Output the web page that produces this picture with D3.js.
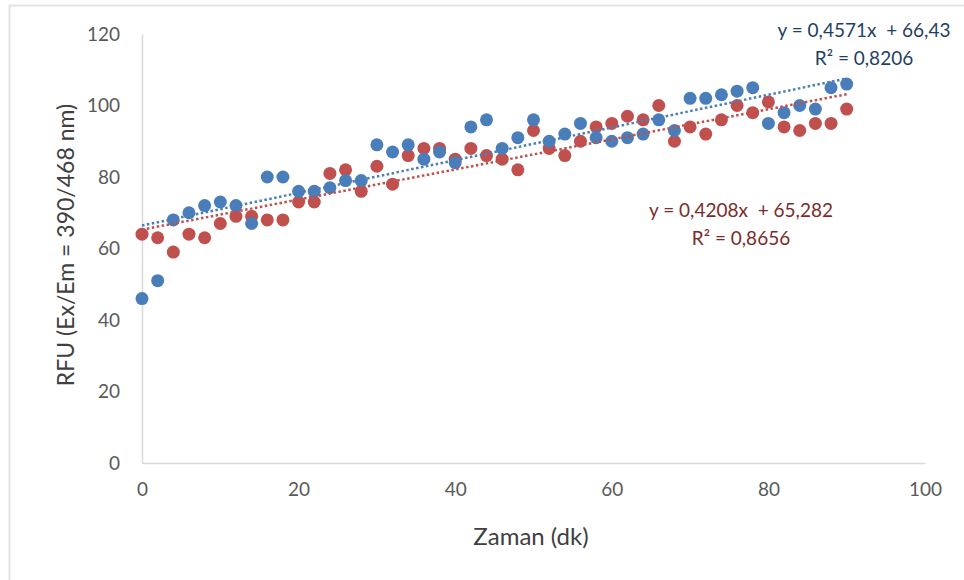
<!DOCTYPE html>
<html>
<head>
<meta charset="utf-8">
<script src="https://cdn.jsdelivr.net/npm/d3@7"></script>
<style>
  body { margin: 0; background: #fff; }
  svg { display: block; }
</style>
</head>
<body>
<div id="chart"></div>
<script>
// time points (dk)
var times = d3.range(0, 91, 2);

// series values
var blueValues = [46, 51, 68, 70, 72, 73, 72, 67, 80, 80,
                  76, 76, 77, 79, 79, 89, 87, 89, 85, 87,
                  84, 94, 96, 88, 91, 96, 90, 92, 95, 91,
                  90, 91, 92, 96, 93, 102, 102, 103, 104, 105,
                  95, 98, 100, 99, 105, 106];
var redValues = [64, 63, 59, 64, 63, 67, 69, 69, 68, 68,
                 73, 73, 81, 82, 76, 83, 78, 86, 88, 88,
                 85, 88, 86, 85, 82, 93, 88, 86, 90, 94,
                 95, 97, 96, 100, 90, 94, 92, 96, 100, 98,
                 101, 94, 93, 95, 95, 99];

// trendline coefficients shown on the chart
var blueTrend = { slope: 0.4571, intercept: 66.43 };
var redTrend = { slope: 0.4208, intercept: 65.282 };

var xTicks = [0, 20, 40, 60, 80, 100];
var yTicks = [0, 20, 40, 60, 80, 100, 120];

var width = 964, height = 580;
var margin = { left: 142, right: 39, top: 34, bottom: 117 };

var svg = d3.select('#chart').append('svg')
    .attr('width', width)
    .attr('height', height);

// outer frame (only top and left edges are visible)
svg.append('line')
    .attr('x1', 9).attr('x2', width).attr('y1', 5.5).attr('y2', 5.5)
    .attr('stroke', '#e3e3e3').attr('stroke-width', 2);
svg.append('line')
    .attr('x1', 9.5).attr('x2', 9.5).attr('y1', 5).attr('y2', height)
    .attr('stroke', '#e3e3e3').attr('stroke-width', 2);

var x = d3.scaleLinear().domain([0, 100])
    .range([margin.left, width - margin.right]);
var y = d3.scaleLinear().domain([0, 120])
    .range([height - margin.bottom, margin.top]);

var font = 'Lato, "Open Sans", sans-serif';

// x axis
var xAxis = svg.append('g')
    .attr('transform', 'translate(0,' + y(0) + ')')
    .call(d3.axisBottom(x).tickValues(xTicks).tickSize(0).tickPadding(20));
xAxis.select('.domain').attr('stroke', '#d9d9d9').attr('stroke-width', 1.5);
xAxis.selectAll('text')
    .attr('fill', '#595959')
    .style('font-family', font)
    .style('font-size', '19px');

// y axis
var yAxis = svg.append('g')
    .attr('transform', 'translate(' + x(0) + ',0)')
    .call(d3.axisLeft(y).tickValues(yTicks).tickSize(0).tickPadding(22));
yAxis.select('.domain').attr('stroke', '#d9d9d9').attr('stroke-width', 1.5);
yAxis.selectAll('text')
    .attr('fill', '#595959')
    .style('font-family', font)
    .style('font-size', '19px');

// axis titles
svg.append('text')
    .attr('x', 531).attr('y', 545)
    .attr('text-anchor', 'middle')
    .attr('fill', '#404040')
    .style('font-family', font)
    .style('font-size', '24px')
    .text('Zaman (dk)');

svg.append('text')
    .attr('transform', 'translate(74,245) rotate(-90)')
    .attr('text-anchor', 'middle')
    .attr('fill', '#404040')
    .style('font-family', font)
    .style('font-size', '23px')
    .text('RFU (Ex/Em = 390/468 nm)');

/**
 * draw one series as filled circles.
 */
function drawSeries(values, color) {

    var pts = times.map(function(t, i) { return { t: t, v: values[i] }; });
    svg.append('g').selectAll('circle')
        .data(pts)
        .enter().append('circle')
        .attr('cx', function(d) { return x(d.t); })
        .attr('cy', function(d) { return y(d.v); })
        .attr('r', 6.5)
        .attr('fill', color);
}

/**
 * dotted linear trendline from 0 to 90 dk.
 */
function drawTrend(trend, color) {

    var ends = [0, 90];
    svg.append('line')
        .attr('x1', x(ends[0]))
        .attr('y1', y(trend.intercept + trend.slope * ends[0]))
        .attr('x2', x(ends[1]))
        .attr('y2', y(trend.intercept + trend.slope * ends[1]))
        .attr('stroke', color)
        .attr('stroke-width', 2.5)
        .attr('stroke-dasharray', '2.5,2.5');
}

drawSeries(redValues, '#c0504d');
drawSeries(blueValues, '#4a7ebb');
drawTrend(redTrend, '#c0504d');
drawTrend(blueTrend, '#4a7ebb');

// trendline labels
function label(lines, cx, cy, color) {
    var t = svg.append('text')
        .attr('text-anchor', 'middle')
        .attr('fill', color)
        .style('font-family', font)
        .style('font-size', '19px');
    lines.forEach(function(s, i) {
        t.append('tspan')
            .attr('x', cx)
            .attr('y', cy + i * 28)
            .attr('xml:space', 'preserve')
            .text(s);
    });
}

label(['y = 0,4571x  + 66,43', 'R\u00b2 = 0,8206'], 864, 37, '#1f3f64');
label(['y = 0,4208x  + 65,282', 'R\u00b2 = 0,8656'], 741, 217, '#7b2c2a');
</script>
</body>
</html>
